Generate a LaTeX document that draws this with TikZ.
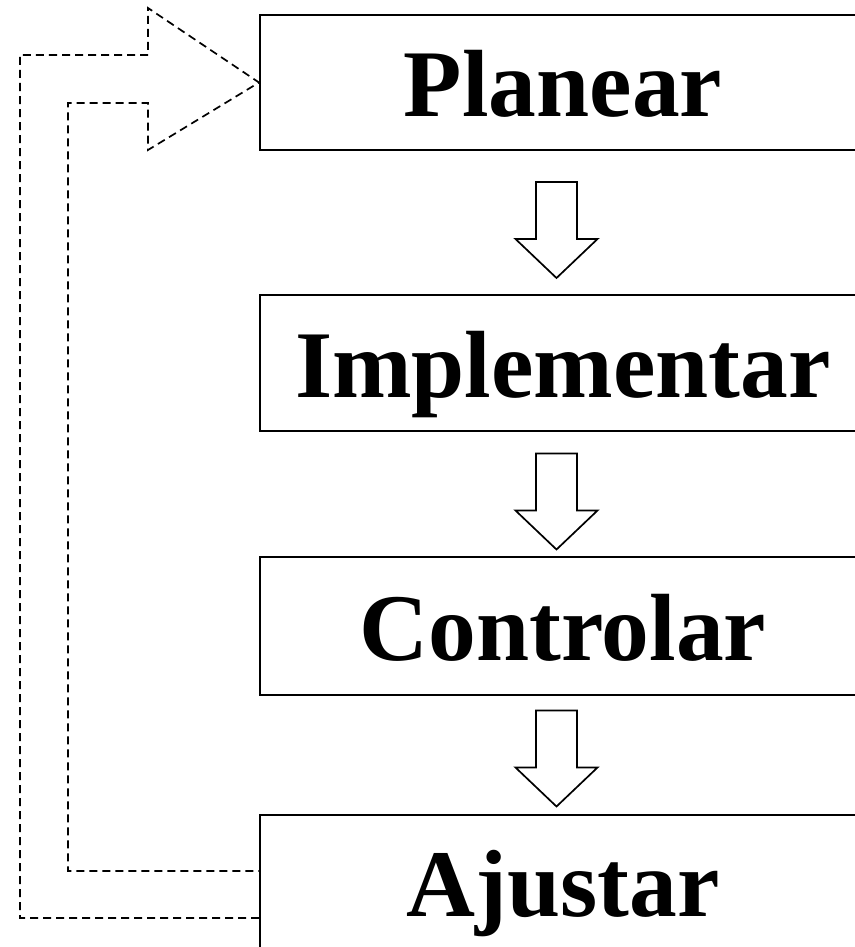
\documentclass[tikz,border=0pt]{standalone}
\usepackage{fontspec}
\setmainfont{Liberation Serif}
\usepackage{tikz}

\tikzset{
    stagebox/.style={draw,
        line width=2pt,
        minimum width=606pt,
        inner sep=0pt,
        text height=68pt,
        text depth=0pt,
        font=\fontsize{95.5}{100}\selectfont\bfseries},
    blockline/.style={draw, line width=1.7pt, fill=white},
    feedback/.style={line width=1.7pt, dash pattern=on 8pt off 5pt},
    pics/blockdown/.style={code={
        \draw[blockline] (-20.5,-48) -- (20.5,-48) -- (20.5,9) -- (41,9)
            -- (0,48) -- (-41,9) -- (-20.5,9) -- cycle;}}
}

\begin{document}
\begin{tikzpicture}[x=1pt,y=-1pt]

\useasboundingbox (0,0) rectangle (854,947);

% Box for the first stage
\node[stagebox,
    minimum height=135pt] (plan) at (563,82.5){Planear};

% Box for the second stage
\node[stagebox,
    minimum height=136pt] (impl) at (563,363){Implementar};

% Box for the third stage
\node[stagebox,
    minimum height=138pt] (ctrl) at (563,626){Controlar};

% Box for the last stage
\node[stagebox,
    minimum height=135pt] (adj) at (563,882.5){Ajustar};

% Hollow arrows between the stages
\pic at (556.5,230) {blockdown};
\pic at (556.5,501.5) {blockdown};
\pic at (556.5,758.5) {blockdown};

% Dashed hollow arrow back to the start
\draw[feedback] ([yshift=-35.5pt]adj.west) -| (20,55) -| (148,8)
    -- (plan.west) -- (148,150) |- (68,103) |- ([yshift=11.5pt]adj.west);

\end{tikzpicture}
\end{document}
